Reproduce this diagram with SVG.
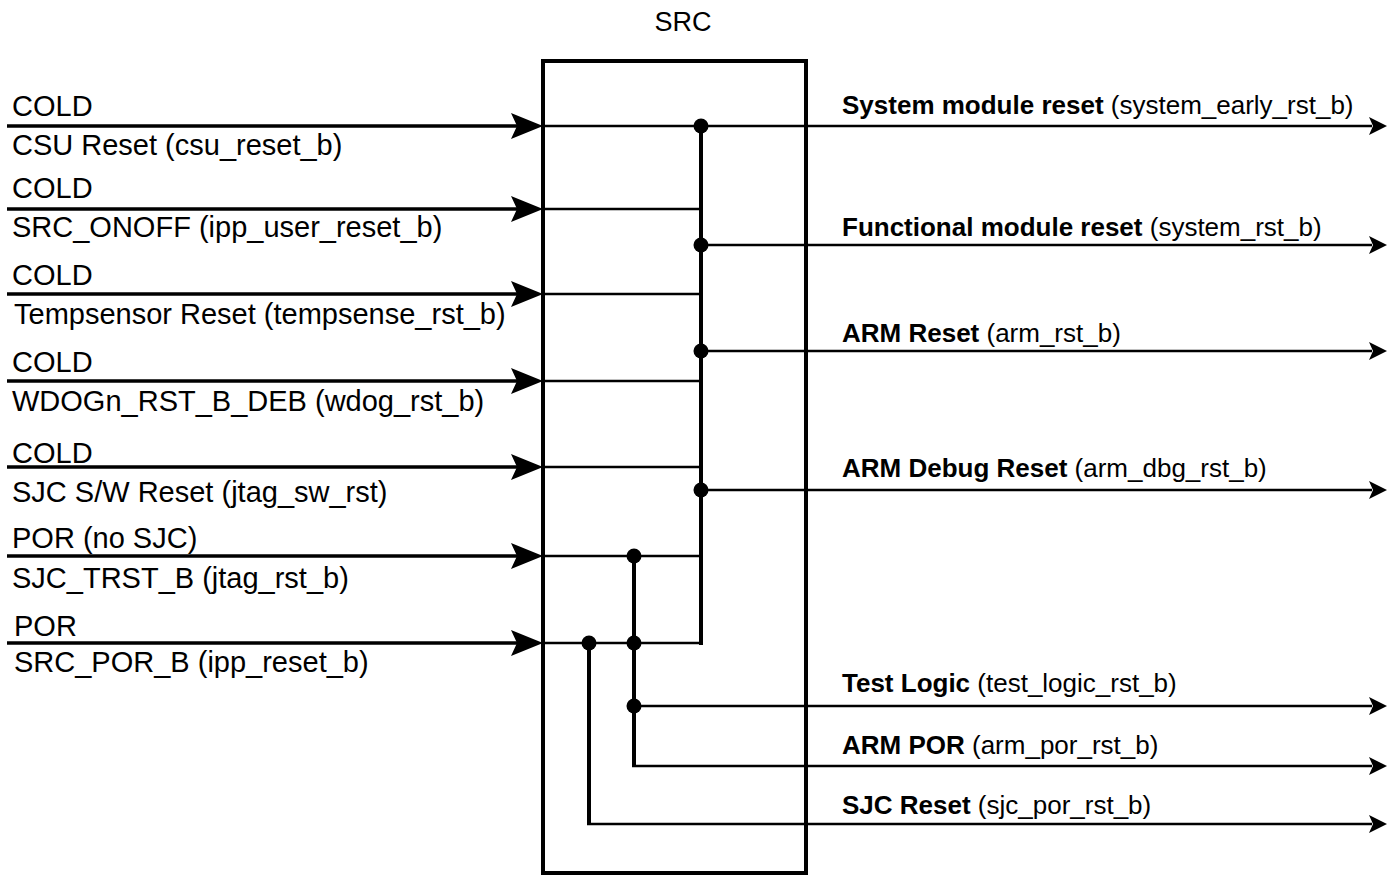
<svg xmlns="http://www.w3.org/2000/svg" width="1387" height="876" viewBox="0 0 1387 876">
<style>
  .lbl{font-family:"Liberation Sans",Arial,sans-serif;font-size:29px;fill:#000}
  .out{font-family:"Liberation Sans",Arial,sans-serif;font-size:26px;fill:#000}
  .ttl{font-family:"Liberation Sans",Arial,sans-serif;font-size:27px;fill:#000}
  .b{font-weight:bold}
  .in{stroke:#000;stroke-width:3.5;fill:none}
  .wire{stroke:#000;stroke-width:2.5;fill:none}
  .bus{stroke:#000;stroke-width:4;fill:none}
</style>
<defs>
  <path id="bigArrow" d="M0,0 L-32,-13 L-26,0 L-32,13 Z" fill="#000"/>
  <path id="smallArrow" d="M0,0 L-18,-9 L-14,0 L-18,9 Z" fill="#000"/>
  <circle id="dot" r="7.5" fill="#000"/>
</defs>

<g id="src-block">
  <text class="ttl" x="683" y="31" text-anchor="middle">SRC</text>
  <rect x="543" y="61" width="263" height="812" fill="none" stroke="#000" stroke-width="4"/>
</g>

<g id="connectors">
  <line class="in" x1="7" y1="126" x2="530" y2="126"/>
  <line class="in" x1="7" y1="209" x2="530" y2="209"/>
  <line class="in" x1="7" y1="294" x2="530" y2="294"/>
  <line class="in" x1="7" y1="381" x2="530" y2="381"/>
  <line class="in" x1="7" y1="467" x2="530" y2="467"/>
  <line class="in" x1="7" y1="556" x2="530" y2="556"/>
  <line class="in" x1="7" y1="643" x2="530" y2="643"/>
  <use href="#bigArrow" x="543" y="126"/>
  <use href="#bigArrow" x="543" y="209"/>
  <use href="#bigArrow" x="543" y="294"/>
  <use href="#bigArrow" x="543" y="381"/>
  <use href="#bigArrow" x="543" y="467"/>
  <use href="#bigArrow" x="543" y="556"/>
  <use href="#bigArrow" x="543" y="643"/>
  <line class="wire" x1="543" y1="126" x2="701" y2="126"/>
  <line class="wire" x1="543" y1="209" x2="701" y2="209"/>
  <line class="wire" x1="543" y1="294" x2="701" y2="294"/>
  <line class="wire" x1="543" y1="381" x2="701" y2="381"/>
  <line class="wire" x1="543" y1="467" x2="701" y2="467"/>
  <line class="wire" x1="543" y1="556" x2="701" y2="556"/>
  <line class="wire" x1="543" y1="643" x2="701" y2="643"/>
  <line class="bus" x1="701" y1="126" x2="701" y2="645"/>
  <line class="bus" x1="634" y1="556" x2="634" y2="766"/>
  <line class="bus" x1="589" y1="643" x2="589" y2="824"/>
  <line class="wire" x1="701" y1="126" x2="1372" y2="126"/>
  <line class="wire" x1="701" y1="245" x2="1372" y2="245"/>
  <line class="wire" x1="701" y1="351" x2="1372" y2="351"/>
  <line class="wire" x1="701" y1="490" x2="1372" y2="490"/>
  <line class="wire" x1="634" y1="706" x2="1372" y2="706"/>
  <line class="wire" x1="632" y1="766" x2="1372" y2="766"/>
  <line class="wire" x1="587" y1="824" x2="1372" y2="824"/>
  <use href="#smallArrow" x="1387" y="126"/>
  <use href="#smallArrow" x="1387" y="245"/>
  <use href="#smallArrow" x="1387" y="351"/>
  <use href="#smallArrow" x="1387" y="490"/>
  <use href="#smallArrow" x="1387" y="706"/>
  <use href="#smallArrow" x="1387" y="766"/>
  <use href="#smallArrow" x="1387" y="824"/>
  <use href="#dot" x="701" y="126"/>
  <use href="#dot" x="701" y="245"/>
  <use href="#dot" x="701" y="351"/>
  <use href="#dot" x="701" y="490"/>
  <use href="#dot" x="634" y="556"/>
  <use href="#dot" x="634" y="643"/>
  <use href="#dot" x="589" y="643"/>
  <use href="#dot" x="634" y="706"/>
</g>

<g id="in-csu">
  <text class="lbl" x="12" y="116">COLD</text>
  <text class="lbl" x="12" y="155">CSU Reset (csu_reset_b)</text>
</g>
<g id="in-onoff">
  <text class="lbl" x="12" y="198">COLD</text>
  <text class="lbl" x="12" y="237">SRC_ONOFF (ipp_user_reset_b)</text>
</g>
<g id="in-temp">
  <text class="lbl" x="12" y="285">COLD</text>
  <text class="lbl" x="14" y="324">Tempsensor Reset (tempsense_rst_b)</text>
</g>
<g id="in-wdog">
  <text class="lbl" x="12" y="372">COLD</text>
  <text class="lbl" x="12" y="411">WDOGn_RST_B_DEB (wdog_rst_b)</text>
</g>
<g id="in-jtagsw">
  <text class="lbl" x="12" y="463">COLD</text>
  <text class="lbl" x="12" y="502">SJC S/W Reset (jtag_sw_rst)</text>
</g>
<g id="in-trst">
  <text class="lbl" x="12" y="548">POR (no SJC)</text>
  <text class="lbl" x="12" y="588">SJC_TRST_B (jtag_rst_b)</text>
</g>
<g id="in-por">
  <text class="lbl" x="14" y="636">POR</text>
  <text class="lbl" x="14" y="672">SRC_POR_B (ipp_reset_b)</text>
</g>

<g id="out-system-early">
  <text class="out" x="842" y="114"><tspan class="b">System module reset</tspan> (system_early_rst_b)</text>
</g>
<g id="out-system">
  <text class="out" x="842" y="236"><tspan class="b">Functional module reset</tspan> (system_rst_b)</text>
</g>
<g id="out-arm">
  <text class="out" x="842" y="342"><tspan class="b">ARM Reset</tspan> (arm_rst_b)</text>
</g>
<g id="out-armdbg">
  <text class="out" x="842" y="477"><tspan class="b">ARM Debug Reset</tspan> (arm_dbg_rst_b)</text>
</g>
<g id="out-testlogic">
  <text class="out" x="842" y="692"><tspan class="b">Test Logic</tspan> (test_logic_rst_b)</text>
</g>
<g id="out-armpor">
  <text class="out" x="842" y="754"><tspan class="b">ARM POR</tspan> (arm_por_rst_b)</text>
</g>
<g id="out-sjc">
  <text class="out" x="842" y="814"><tspan class="b">SJC Reset</tspan> (sjc_por_rst_b)</text>
</g>
</svg>
